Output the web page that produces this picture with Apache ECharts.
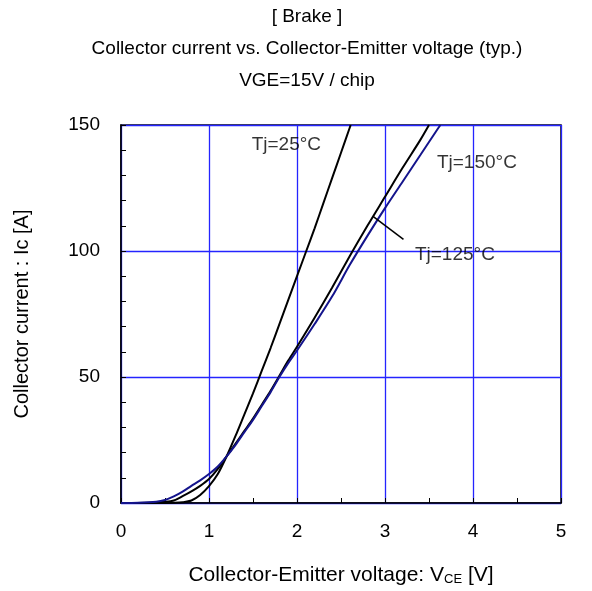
<!DOCTYPE html>
<html>
<head>
<meta charset="utf-8">
<script src="https://cdn.jsdelivr.net/npm/echarts@6/dist/echarts.min.js"></script>
<style>
  html, body { margin: 0; padding: 0; background: #fff; }
  #chart { width: 592px; height: 591px; }
</style>
</head>
<body>
<div id="chart"></div>
<script>
// Tj=25°C curve [VCE, Ic]
var tj25 = [
  [0, 0], [0.4, 0], [0.6, 0.1], [0.7, 0.3], [0.8, 1.0], [0.9, 3.2], [1.0, 6.7],
  [1.1, 11.5], [1.2, 18.5], [1.3, 26.5], [1.4, 35], [1.5, 43.5], [1.6, 52.5],
  [1.7, 61.5], [1.8, 71], [1.9, 80.5], [2.0, 90], [2.1, 99.5], [2.2, 109],
  [2.3, 119], [2.4, 129], [2.5, 139], [2.6, 149], [2.61, 150]
];
// Tj=125°C curve
var tj125 = [
  [0, 0], [0.3, 0.1], [0.5, 0.5], [0.6, 1.0], [0.7, 2.7], [0.8, 4.6], [0.9, 6.8],
  [1.0, 9.5], [1.1, 13.5], [1.2, 18.5], [1.3, 23.5], [1.4, 28.5], [1.5, 33.5],
  [1.6, 39], [1.7, 44.5], [1.8, 50.5], [1.9, 56.5], [2.0, 62], [2.2, 73.5],
  [2.4, 85.5], [2.6, 98], [2.8, 110], [3.0, 121.5], [3.2, 133], [3.4, 144], [3.5, 150]
];
// Tj=150°C curve
var tj150 = [
  [0, 0], [0.2, 0.1], [0.4, 0.5], [0.5, 1.2], [0.6, 2.6], [0.7, 4.5], [0.8, 6.8],
  [0.9, 9.0], [1.0, 11.5], [1.1, 14.5], [1.2, 18.5], [1.3, 23], [1.4, 28],
  [1.5, 33], [1.6, 38.5], [1.7, 44], [1.8, 50], [1.9, 55.5], [2.0, 60.5],
  [2.2, 71], [2.4, 82], [2.6, 94.5], [2.8, 106], [3.0, 117], [3.2, 127.5],
  [3.4, 138], [3.6, 148.5], [3.63, 150]
];
// leader line for the Tj=125°C label
var leader125 = [[2.86, 113.8], [3.21, 104.6]];
// curve labels [VCE, Ic, text]
var curveLabels = [
  [1.485, 142, 'Tj=25°C'],
  [3.59, 135, 'Tj=150°C'],
  [3.34, 98.7, 'Tj=125°C']
];
var titleLines = ['[ Brake ]', 'Collector current vs. Collector-Emitter voltage (typ.)', 'VGE=15V / chip'];

var FONT = '"Liberation Sans", Arial, sans-serif';
var chart = echarts.init(document.getElementById('chart'));

// three centred title lines
var titleGraphics = titleLines.map(function (t, i) {
  return {
    type: 'text', x: 307, y: 17 + i * 32,
    style: { text: t, font: '19px ' + FONT, fill: '#000', align: 'center', verticalAlign: 'middle' }
  };
});

var option = {
  animation: false,
  backgroundColor: '#fff',
  textStyle: { fontFamily: FONT },
  graphic: titleGraphics,
  grid: { left: 121, top: 125, right: 31, bottom: 86, show: true, borderColor: '#000', borderWidth: 1.5 },
  xAxis: {
    type: 'value', min: 0, max: 5, interval: 1,
    name: '{n|Collector-Emitter voltage: V}{s|CE}{n| [V]}',
    nameLocation: 'middle', nameGap: 62,
    nameTextStyle: { rich: { n: { fontSize: 21, fontFamily: FONT, color: '#000' }, s: { fontSize: 13, fontFamily: FONT, color: '#000', verticalAlign: 'bottom', padding: [4, 0, 0, 0] } } },
    axisLine: { lineStyle: { color: '#000', width: 1.5 } },
    axisTick: { inside: true, length: 5, lineStyle: { color: '#000' } },
    minorTick: { show: true, splitNumber: 2, length: 5, lineStyle: { color: '#000' } },
    axisLabel: { fontSize: 19, color: '#000', margin: 19, fontFamily: FONT },
    splitLine: { show: true, lineStyle: { color: '#2424ff', width: 1.3 } }
  },
  yAxis: {
    type: 'value', min: 0, max: 150, interval: 50,
    name: 'Collector current : Ic [A]',
    nameLocation: 'middle', nameGap: 89,
    nameTextStyle: { fontSize: 20, color: '#000', fontFamily: FONT },
    axisLine: { show: true, lineStyle: { color: '#000', width: 1.5 } },
    axisTick: { show: true, inside: true, length: 5, lineStyle: { color: '#000' } },
    minorTick: { show: true, splitNumber: 5, length: 5, lineStyle: { color: '#000' } },
    axisLabel: { fontSize: 19, color: '#000', margin: 21, fontFamily: FONT },
    splitLine: { show: true, lineStyle: { color: '#2424ff', width: 1.3 } }
  },
  series: [
    { name: 'Tj=25°C', type: 'line', data: tj25, showSymbol: false, smooth: 0.3,
      lineStyle: { color: '#000', width: 2 } },
    { name: 'Tj=125°C', type: 'line', data: tj125, showSymbol: false, smooth: 0.3,
      lineStyle: { color: '#000', width: 2 } },
    { name: 'Tj=150°C', type: 'line', data: tj150, showSymbol: false, smooth: 0.3,
      lineStyle: { color: '#14148c', width: 2 } },
    { name: 'leader', type: 'line', data: leader125, showSymbol: false,
      lineStyle: { color: '#000', width: 1.5 } },
    { name: 'labels', type: 'scatter', symbolSize: 0,
      data: curveLabels.map(function (d) { return { value: [d[0], d[1]], name: d[2] }; }),
      label: { show: true, position: 'right', distance: 0, formatter: '{b}', fontSize: 19, color: '#000', fontFamily: FONT } }
  ]
};
chart.setOption(option);
</script>
</body>
</html>
